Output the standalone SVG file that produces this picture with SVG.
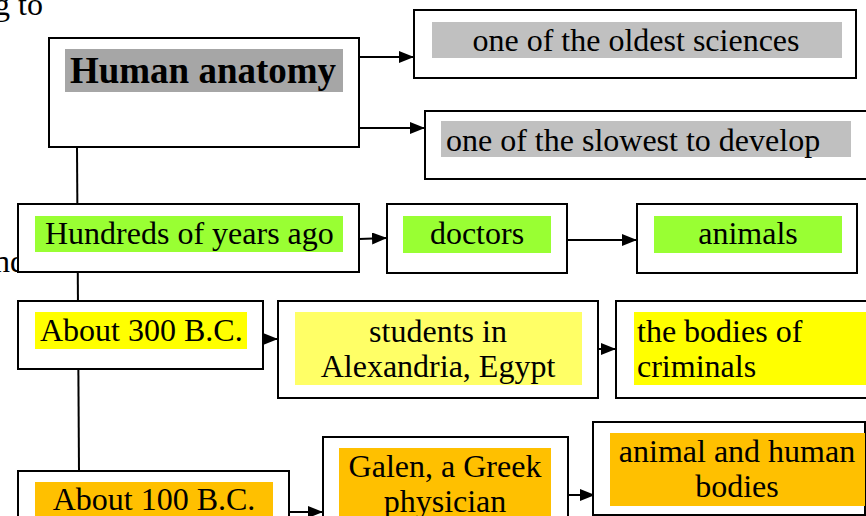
<svg xmlns="http://www.w3.org/2000/svg" width="866" height="516" viewBox="0 0 866 516">
<style>
.bx{fill:#fff;stroke:#000;stroke-width:2}
.t{font-family:"Liberation Serif","Times New Roman",serif;font-size:32px;fill:#000}
.c{text-anchor:middle}
.b{font-weight:bold;font-size:37px}
.ln{stroke:#000;stroke-width:2;fill:none}
</style>
<defs>
<marker id="ah" markerUnits="userSpaceOnUse" markerWidth="15" markerHeight="12" refX="15" refY="6" orient="auto">
<path d="M0,0 L15,6 L0,12 z" fill="#000"/>
</marker>
</defs>
<rect width="866" height="516" fill="#fff"/>
<text class="t" x="-6" y="15">g to</text>
<text class="t" x="-6" y="272">nd</text>
<g id="connectors">
<line class="ln" x1="77" y1="147" x2="79" y2="471"/>
<line class="ln" x1="359" y1="57" x2="414" y2="57" marker-end="url(#ah)"/>
<line class="ln" x1="359" y1="128" x2="425" y2="128" marker-end="url(#ah)"/>
<line class="ln" x1="359" y1="239" x2="387" y2="238" marker-end="url(#ah)"/>
<line class="ln" x1="567" y1="240" x2="637" y2="240" marker-end="url(#ah)"/>
<line class="ln" x1="263" y1="339" x2="278" y2="339" marker-end="url(#ah)"/>
<line class="ln" x1="598" y1="349" x2="616" y2="349" marker-end="url(#ah)"/>
<line class="ln" x1="289" y1="512" x2="323" y2="512" marker-end="url(#ah)"/>
<line class="ln" x1="568" y1="495" x2="595" y2="495" marker-end="url(#ah)"/>
</g>
<g id="human-anatomy">
<rect class="bx" x="49" y="38" width="310" height="109"/>
<rect x="65" y="49" width="278" height="43" fill="#A6A6A6"/>
<text class="t b c" x="203" y="83">Human anatomy</text>
</g>
<g id="oldest">
<rect class="bx" x="414" y="10" width="442" height="68"/>
<rect x="432" y="22" width="410" height="36" fill="#C0C0C0"/>
<text class="t c" x="636" y="51">one of the oldest sciences</text>
</g>
<g id="slowest">
<rect class="bx" x="425" y="111" width="445" height="68"/>
<rect x="441" y="121" width="410" height="36" fill="#C0C0C0"/>
<text class="t" x="446" y="151">one of the slowest to develop</text>
</g>
<g id="hundreds">
<rect class="bx" x="18" y="204" width="341" height="68"/>
<rect x="35" y="216" width="308" height="36" fill="#99FF33"/>
<text class="t" x="45" y="244">Hundreds of years ago</text>
</g>
<g id="doctors">
<rect class="bx" x="387" y="204" width="180" height="69"/>
<rect x="403" y="216" width="148" height="37" fill="#99FF33"/>
<text class="t c" x="477" y="244">doctors</text>
</g>
<g id="animals">
<rect class="bx" x="637" y="204" width="220" height="69"/>
<rect x="654" y="216" width="188" height="37" fill="#99FF33"/>
<text class="t c" x="748" y="244">animals</text>
</g>
<g id="bc300">
<rect class="bx" x="18" y="301" width="245" height="68"/>
<rect x="35" y="312" width="212" height="37" fill="#FFFF00"/>
<text class="t" x="40" y="341">About 300 B.C.</text>
</g>
<g id="students">
<rect class="bx" x="278" y="301" width="320" height="97"/>
<rect x="295" y="312" width="287" height="73" fill="#FFFF66"/>
<text class="t c" x="438" y="342">students in</text>
<text class="t c" x="438" y="377">Alexandria, Egypt</text>
</g>
<g id="criminals">
<rect class="bx" x="616" y="301" width="260" height="97"/>
<rect x="634" y="312" width="240" height="73" fill="#FFFF00"/>
<text class="t" x="637" y="342">the bodies of</text>
<text class="t" x="637" y="377">criminals</text>
</g>
<g id="bc100">
<rect class="bx" x="18" y="471" width="271" height="60"/>
<rect x="35" y="482" width="238" height="40" fill="#FFC000"/>
<text class="t c" x="154" y="510">About 100 B.C.</text>
</g>
<g id="galen">
<rect class="bx" x="323" y="437" width="245" height="90"/>
<rect x="339" y="448" width="212" height="75" fill="#FFC000"/>
<text class="t c" x="445" y="477">Galen, a Greek</text>
<text class="t c" x="445" y="512">physician</text>
</g>
<g id="bodies">
<rect class="bx" x="593" y="422" width="272" height="93"/>
<rect x="610" y="433" width="255" height="73" fill="#FFC000"/>
<text class="t c" x="737" y="462">animal and human</text>
<text class="t c" x="737" y="497">bodies</text>
</g>
</svg>
